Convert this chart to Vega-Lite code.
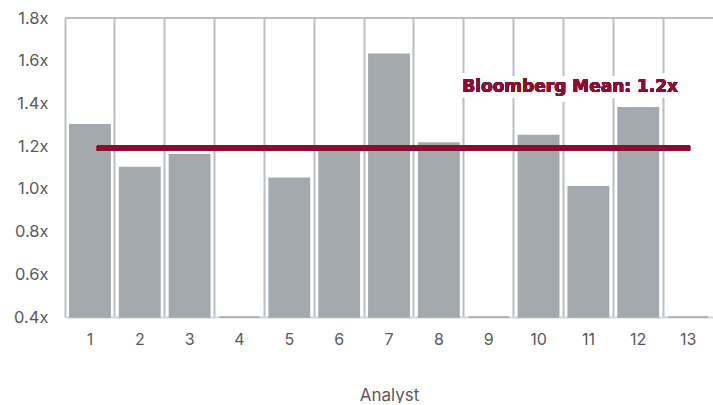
{
  "$schema": "https://vega.github.io/schema/vega-lite/v6.json",
  "width": 648,
  "height": 299,
  "padding": {"left": 5, "top": 10, "right": 0, "bottom": 0},
  "background": "white",
  "config": {"view": {"stroke": null}, "font": "Inter"},
  "data": {"values": [
    {"analyst": "1", "value": 1.30},
    {"analyst": "2", "value": 1.10},
    {"analyst": "3", "value": 1.16},
    {"analyst": "4", "value": 0.4},
    {"analyst": "5", "value": 1.05},
    {"analyst": "6", "value": 1.18},
    {"analyst": "7", "value": 1.63},
    {"analyst": "8", "value": 1.215},
    {"analyst": "9", "value": 0.4},
    {"analyst": "10", "value": 1.25},
    {"analyst": "11", "value": 1.01},
    {"analyst": "12", "value": 1.38},
    {"analyst": "13", "value": 0.4}
  ]},
  "encoding": {
    "x": {
      "field": "analyst", "type": "ordinal", "sort": null,
      "scale": {"paddingInner": 0, "paddingOuter": 0},
      "axis": {
        "title": "Analyst", "titleFont": "Inter", "titleFontSize": 17, "titleFontWeight": "normal",
        "titleColor": "#595959", "titlePadding": 40,
        "labelAngle": 0, "labelFontSize": 16, "labelColor": "#595959", "labelPadding": 14,
        "ticks": false, "grid": true, "bandPosition": 0, "gridColor": "#B9BFC2", "gridWidth": 2,
        "domainColor": "#D3D6D8", "domainWidth": 2
      }
    },
    "y": {
      "field": "value", "type": "quantitative",
      "scale": {"domain": [0.4, 1.8], "zero": false},
      "axis": {
        "title": null, "values": [0.4, 0.6, 0.8, 1.0, 1.2, 1.4, 1.6, 1.8],
        "labelExpr": "format(datum.value, '.1f') + 'x'",
        "labelFontSize": 16.5, "labelColor": "#595959", "labelPadding": 17,
        "ticks": false, "grid": false, "domain": false,
        "minExtent": 60, "maxExtent": 60
      }
    }
  },
  "layer": [
    {
      "mark": {"type": "bar", "width": {"band": 0.81}, "color": "#A3A9AC", "stroke": "#A3A9AC", "strokeWidth": 1.5},
      "encoding": {"y2": {"datum": 0.4}}
    },
    {
      "mark": {"type": "rule", "color": "#B9BFC2", "strokeWidth": 2},
      "encoding": {"x": null, "y": {"datum": 1.8}}
    },
    {
      "mark": {"type": "rule", "color": "#8C0C32", "strokeWidth": 5},
      "encoding": {
        "x": {"datum": "1", "bandPosition": 0.64},
        "x2": {"datum": "13", "bandPosition": 0.54},
        "y": {"datum": 1.19}
      }
    },
    {
      "mark": {"type": "text", "text": "Bloomberg Mean: 1.2x", "font": "DejaVu Sans", "fontSize": 17, "fontWeight": "bold",
               "align": "right", "baseline": "middle", "dx": -10, "stroke": "white", "strokeWidth": 12, "strokeJoin": "round", "fill": "white"},
      "encoding": {"x": {"datum": "13"}, "y": {"datum": 1.477}}
    },
    {
      "mark": {"type": "text", "text": "Bloomberg Mean: 1.2x", "font": "DejaVu Sans", "fontSize": 17, "fontWeight": "bold",
               "align": "right", "baseline": "middle", "dx": -10, "fill": "#8C0C32", "stroke": null},
      "encoding": {"x": {"datum": "13"}, "y": {"datum": 1.477}}
    }
  ]
}
